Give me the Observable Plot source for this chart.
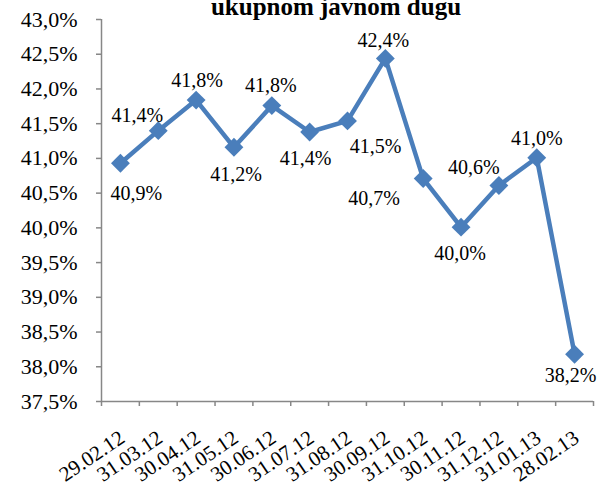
<!DOCTYPE html>
<html>
<head>
<meta charset="utf-8">
<script src="https://cdn.jsdelivr.net/npm/d3@7"></script>
<script src="https://cdn.jsdelivr.net/npm/@observablehq/plot@0.6"></script>
<style>
  html, body { margin: 0; padding: 0; background: #fff; }
  #wrap { position: relative; width: 602px; height: 486px; overflow: hidden; }
  #title { position: absolute; left: 0; width: 602px; top: -8px; text-align: center; padding-left: 70px; box-sizing: border-box;
           font: bold 25px "Liberation Serif", serif; color: #000; line-height: 30px; white-space: nowrap; }
  #chart { position: absolute; left: 0; top: 0; }
</style>
</head>
<body>
<div id="wrap">
  <div id="chart"></div>
  <div id="title">ukupnom javnom dugu</div>
</div>
<script>
const dates = ["29.02.12","31.03.12","30.04.12","31.05.12","30.06.12","31.07.12","31.08.12","30.09.12","31.10.12","30.11.12","31.12.12","31.01.13","28.02.13"];
const values = [40.93, 41.40, 41.84, 41.16, 41.76, 41.38, 41.54, 42.44, 40.71, 40.01, 40.61, 41.01, 38.18];
const yTicks = [37.5, 38.0, 38.5, 39.0, 39.5, 40.0, 40.5, 41.0, 41.5, 42.0, 42.5, 43.0];

const data = dates.map((d, i) => ({i, date: d, value: values[i]}));
// label offsets (dx, dy) relative to each point
const offsets = [[16,30],[-21,-15],[1,-19],[2,27],[-1,-20],[-4,27],[28,26],[-2,-18],[-49,20],[-1,26],[-25,-18],[0,-19],[-4,21]];
const fmt = v => v.toFixed(1).replace(".", ",") + "%";
const blue = "#4a7ebb";
const axisCol = "#878787";
const font = "Liberation Serif";

const labelMarks = data.map((d, k) => Plot.text([d], {
  x: r => r.i + 0.5, y: "value", text: r => fmt(r.value),
  dx: offsets[k][0], dy: offsets[k][1], fontSize: 20, fill: "#000", fontFamily: font
}));

const chart = Plot.plot({
  width: 602, height: 486,
  marginLeft: 101, marginRight: 9, marginTop: 19, marginBottom: 85,
  style: {fontFamily: font, background: "transparent"},
  x: {type: "linear", domain: [0, dates.length], axis: null},
  y: {domain: [37.5, 43], axis: null},
  marks: [
    Plot.axisY({ticks: yTicks, tickFormat: fmt, label: null, tickSize: 5, tickPadding: 19, fontSize: 22, fontFamily: font, stroke: axisCol, strokeWidth: 1.5, color: "#000", fill: "#000"}),
    Plot.ruleX([0], {stroke: axisCol, strokeWidth: 1.5}),
    Plot.ruleY([37.5], {stroke: axisCol, strokeWidth: 1.5}),
    Plot.axisX({ticks: d3.range(dates.length + 1), tickFormat: () => "", label: null, tickSize: 5, stroke: axisCol, strokeWidth: 1.5}),
    Plot.axisX({ticks: d3.range(dates.length).map(i => i + 0.5), tickFormat: t => dates[Math.floor(t)], label: null, tickSize: 0, tickPadding: 34, tickRotate: -34, dx: 2, fontSize: 21, fontFamily: font, fill: "#000"}),
    Plot.line(data, {x: d => d.i + 0.5, y: "value", stroke: blue, strokeWidth: 4.5, strokeLinejoin: "round"}),
    Plot.dot(data, {x: d => d.i + 0.5, y: "value", symbol: "diamond2", r: 8.5, fill: blue, stroke: "none"}),
    ...labelMarks
  ]
});
document.getElementById("chart").appendChild(chart);
</script>
</body>
</html>
